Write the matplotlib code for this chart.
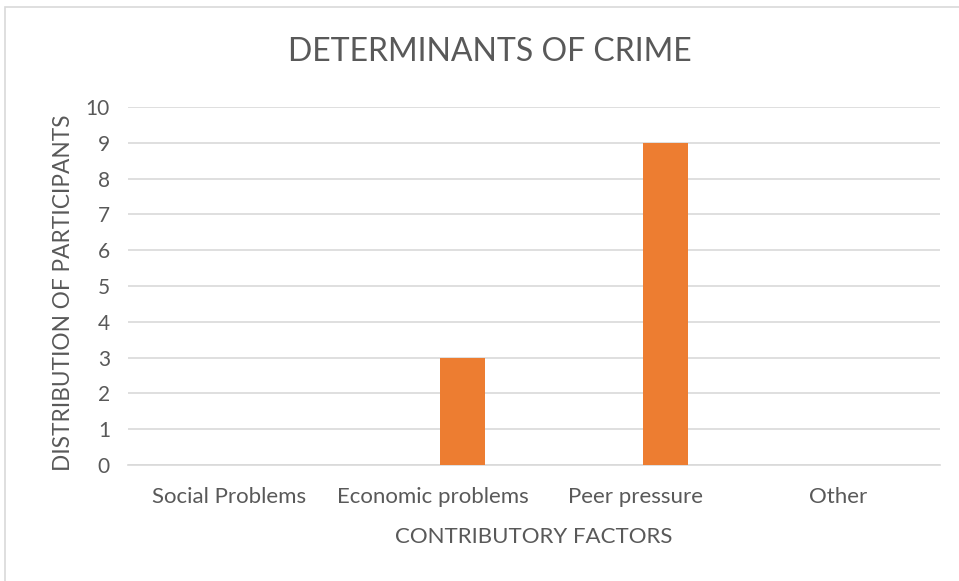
import matplotlib
matplotlib.use("Agg")
import matplotlib.pyplot as plt
import numpy as np
from matplotlib.patches import Rectangle

categories = ["Social Problems", "Economic problems", "Peer pressure", "Other"]
values = [0, 3, 9, 0]
yticks = list(range(0, 11))

plt.rcParams['font.family'] = ['Lato', 'DejaVu Sans']
txt = '#595959'
grid = '#D9D9D9'

fig = plt.figure(figsize=(9.59, 5.81), dpi=100)
fig.patches.append(Rectangle((5/959, -0.1), 1.1, 1 - 7/581 + 0.1, transform=fig.transFigure,
                             fill=False, edgecolor='#D9D9D9', linewidth=1.2))

ax = fig.add_axes([128/959, 1 - 465/581, (940 - 128)/959, (465 - 107)/581])
x = np.arange(len(categories))
ax.bar(x + 0.148, values, width=0.222, color='#ED7D31', zorder=3)

ax.set_xlim(-0.5, len(categories) - 0.5)
ax.set_ylim(0, 10)
ax.set_yticks(yticks)
ax.set_xticks(x)
ax.set_xticklabels(categories, fontsize=16)
ax.grid(axis='y', color=grid, linewidth=1.2, zorder=0)
for s in ['top', 'right', 'left']:
    ax.spines[s].set_visible(False)
ax.spines['bottom'].set_color(grid)
ax.spines['bottom'].set_linewidth(1.2)
ax.tick_params(length=0, colors=txt)
ax.tick_params(axis='y', pad=13, labelsize=15)
ax.tick_params(axis='x', pad=16)

ax.set_xlabel("CONTRIBUTORY FACTORS", color=txt, fontsize=16, labelpad=14)
ax.set_ylabel("DISTRIBUTION OF PARTICIPANTS", color=txt, fontsize=16.3)
ax.yaxis.set_label_coords(-0.067, 0.48)

fig.text(490/959, 1 - 52/581, "DETERMINANTS OF CRIME", color=txt, fontsize=23,
         ha='center', va='center')

fig.savefig("out.png", dpi=100)
